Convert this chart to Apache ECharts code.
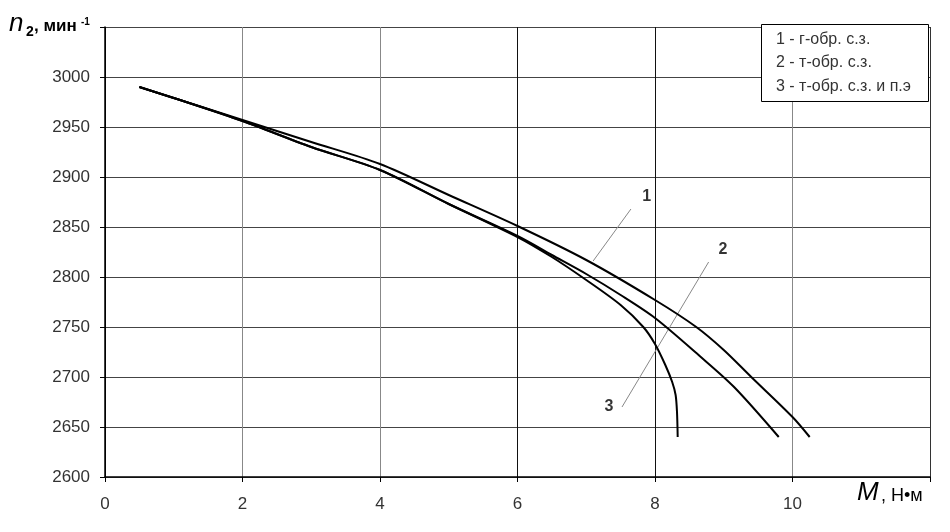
<!DOCTYPE html>
<html>
<head>
<meta charset="utf-8">
<script src="https://cdn.jsdelivr.net/npm/echarts@6/dist/echarts.min.js"></script>
<style>
  html, body { margin: 0; padding: 0; background: #fff; }
  #chart { width: 950px; height: 532px; }
</style>
</head>
<body>
<div id="chart"></div>
<script>
// кривые n2(M): [M, n2]
var curve1 = [[0.5, 2990], [1, 2979], [2, 2957], [3, 2935], [4, 2913], [5, 2882], [6, 2851],
  [7, 2817], [8, 2777], [8.6, 2750], [9, 2727], [9.4, 2700], [10, 2660], [10.25, 2640]];
var curve2 = [[0.5, 2990], [1, 2979], [2, 2956], [3, 2930], [4, 2907], [5, 2873], [6, 2841],
  [6.5, 2822], [7, 2803], [7.5, 2782], [8, 2759], [8.65, 2721], [9.15, 2690], [9.8, 2640]];
var curve3 = [[0.5, 2990], [1, 2979], [2, 2956], [3, 2930], [4, 2907], [5, 2873], [6, 2840],
  [6.5, 2820], [7, 2797], [7.5, 2772], [7.83, 2750], [8, 2733], [8.15, 2712], [8.25, 2695],
  [8.3, 2682], [8.32, 2665], [8.33, 2640]];

// выноски и номера кривых
var leader1 = [[7.65, 2868], [7.10, 2816]];
var leader23 = [[8.78, 2815], [7.52, 2670]];
var curveLabels = [
  { name: '1', value: [7.88, 2880] },
  { name: '2', value: [8.99, 2827] },
  { name: '3', value: [7.33, 2670] }
];
var legendLines = ['1 - г-обр. с.з.', '2 - т-обр. с.з.', '3 - т-обр. с.з. и п.э'];

var xColors = ['#000', '#888', '#888', '#111', '#111', '#888', '#333'];

var chart = echarts.init(document.getElementById('chart'));

function curveSeries(name, data) {
  return {
    name: name,
    type: 'line',
    data: data,
    smooth: 0.3,
    showSymbol: false,
    lineStyle: { color: '#000', width: 2 },
    z: 5
  };
}

function leaderSeries(data) {
  return {
    type: 'line',
    data: data,
    showSymbol: false,
    lineStyle: { color: '#888', width: 1 },
    z: 4
  };
}

var font = '"Liberation Sans", Arial';

chart.setOption({
  animation: false,
  backgroundColor: '#fff',
  textStyle: { fontFamily: 'Liberation Sans, Arial, sans-serif' },
  grid: { left: 105, right: 20, top: 27, bottom: 55 },
  xAxis: {
    type: 'value',
    min: 0,
    max: 12,
    interval: 2,
    axisLine: { lineStyle: { color: '#000', width: 1.5 } },
    axisTick: { show: true, length: 5, lineStyle: { color: '#000' } },
    axisLabel: {
      color: '#333', fontSize: 17, margin: 19,
      formatter: function (v) { return v === 12 ? '' : String(v); }
    },
    splitLine: { show: true, lineStyle: { color: xColors, width: 1 } }
  },
  yAxis: {
    type: 'value',
    min: 2600,
    max: 3050,
    interval: 50,
    axisLine: { show: true, lineStyle: { color: '#000', width: 1.5 } },
    axisTick: { show: true, length: 5, lineStyle: { color: '#000' } },
    axisLabel: {
      color: '#333', fontSize: 17, margin: 15,
      formatter: function (v) { return v === 3050 ? '' : String(v); }
    },
    splitLine: { show: true, lineStyle: { color: '#444', width: 1 } }
  },
  series: [
    curveSeries('1', curve1),
    curveSeries('2', curve2),
    curveSeries('3', curve3),
    leaderSeries(leader1),
    leaderSeries(leader23),
    {
      type: 'scatter',
      data: curveLabels,
      symbolSize: 1,
      itemStyle: { color: 'rgba(0,0,0,0)' },
      label: {
        show: true,
        position: 'inside',
        formatter: '{b}',
        color: '#000',
        fontSize: 16,
        fontWeight: 'bold'
      },
      z: 6
    }
  ],
  graphic: [
    // подпись оси Y: n2, мин-1
    { type: 'text', left: 9, top: 11, style: { text: 'n', font: 'italic 26px ' + font, fill: '#000' } },
    { type: 'text', left: 26, top: 25, style: { text: '2', font: 'bold 14px ' + font, fill: '#000' } },
    { type: 'text', left: 34, top: 18, style: { text: ', мин', font: 'bold 17px ' + font, fill: '#000' } },
    { type: 'text', left: 81, top: 17, style: { text: '-1', font: 'bold 10px ' + font, fill: '#000' } },
    // подпись оси X: M, Н•м
    { type: 'text', left: 857, top: 480, style: { text: 'M', font: 'italic 26px ' + font, fill: '#000' } },
    { type: 'text', left: 881, top: 487, style: { text: ', Н•м', font: '18px ' + font, fill: '#000' } },
    // легенда
    { type: 'rect', left: 761, top: 24, z: 100, shape: { width: 167, height: 77 }, style: { fill: '#fff', stroke: '#000', lineWidth: 1 } },
    { type: 'text', left: 776, top: 32, z: 101, style: { text: legendLines[0], font: '16px ' + font, fill: '#333' } },
    { type: 'text', left: 776, top: 55, z: 101, style: { text: legendLines[1], font: '16px ' + font, fill: '#333' } },
    { type: 'text', left: 776, top: 79, z: 101, style: { text: legendLines[2], font: '16px ' + font, fill: '#333' } }
  ]
});
</script>
</body>
</html>
